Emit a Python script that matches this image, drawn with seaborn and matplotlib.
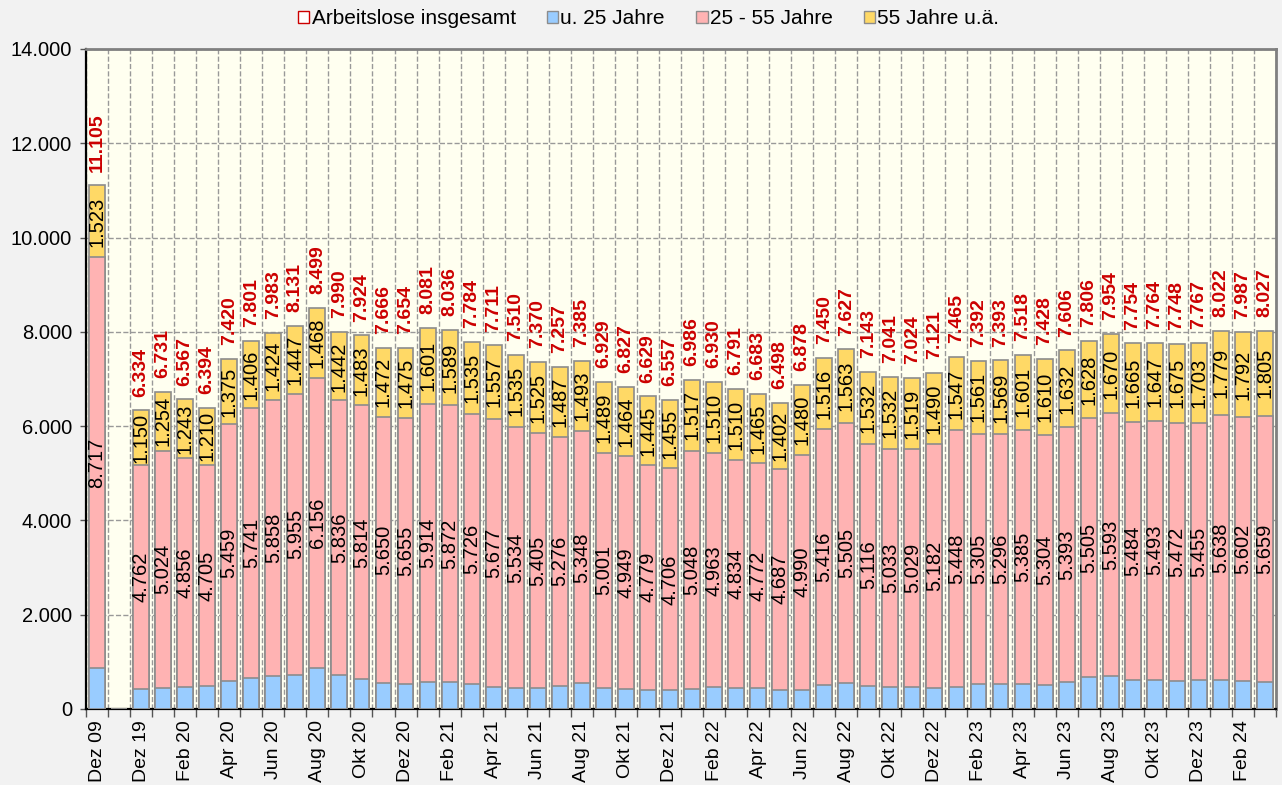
import pandas as pd
import numpy as np
import seaborn as sns
import matplotlib.pyplot as plt
from matplotlib.patches import Patch
from matplotlib.ticker import FuncFormatter, FixedLocator

# months (second slot is an empty gap between Dez 09 and Dez 19)
months = ["Dez 09", "",
          "Dez 19",
          "Jan 20", "Feb 20", "Mrz 20", "Apr 20", "Mai 20", "Jun 20",
          "Jul 20", "Aug 20", "Sep 20", "Okt 20", "Nov 20", "Dez 20",
          "Jan 21", "Feb 21", "Mrz 21", "Apr 21", "Mai 21", "Jun 21",
          "Jul 21", "Aug 21", "Sep 21", "Okt 21", "Nov 21", "Dez 21",
          "Jan 22", "Feb 22", "Mrz 22", "Apr 22", "Mai 22", "Jun 22",
          "Jul 22", "Aug 22", "Sep 22", "Okt 22", "Nov 22", "Dez 22",
          "Jan 23", "Feb 23", "Mrz 23", "Apr 23", "Mai 23", "Jun 23",
          "Jul 23", "Aug 23", "Sep 23", "Okt 23", "Nov 23", "Dez 23",
          "Jan 24", "Feb 24", "Mrz 24"]

total = [11105, 0,
         6334,
         6731, 6567, 6394, 7420, 7801, 7983, 8131, 8499, 7990, 7924, 7666, 7654,
         8081, 8036, 7784, 7711, 7510, 7370, 7257, 7385, 6929, 6827, 6629, 6557,
         6986, 6930, 6791, 6683, 6498, 6878, 7450, 7627, 7143, 7041, 7024, 7121,
         7465, 7392, 7393, 7518, 7428, 7606, 7806, 7954, 7754, 7764, 7748, 7767,
         8022, 7987, 8027]

unter25 = [865, 0,
           422,
           453, 468, 479, 586, 654, 701, 729, 875, 712, 627, 544, 524,
           566, 575, 523, 477, 441, 440, 494, 544, 439, 414, 405, 396,
           421, 457, 447, 446, 409, 408, 518, 559, 495, 476, 476, 449,
           470, 526, 528, 532, 514, 581, 673, 691, 605, 624, 601, 609,
           605, 593, 563]

mitte = [8717, 0,
         4762,
         5024, 4856, 4705, 5459, 5741, 5858, 5955, 6156, 5836, 5814, 5650, 5655,
         5914, 5872, 5726, 5677, 5534, 5405, 5276, 5348, 5001, 4949, 4779, 4706,
         5048, 4963, 4834, 4772, 4687, 4990, 5416, 5505, 5116, 5033, 5029, 5182,
         5448, 5305, 5296, 5385, 5304, 5393, 5505, 5593, 5484, 5493, 5472, 5455,
         5638, 5602, 5659]

ab55 = [1523, 0,
        1150,
        1254, 1243, 1210, 1375, 1406, 1424, 1447, 1468, 1442, 1483, 1472, 1475,
        1601, 1589, 1535, 1557, 1535, 1525, 1487, 1493, 1489, 1464, 1445, 1455,
        1517, 1510, 1510, 1465, 1402, 1480, 1516, 1563, 1532, 1532, 1519, 1490,
        1547, 1561, 1569, 1601, 1610, 1632, 1628, 1670, 1665, 1647, 1675, 1703,
        1779, 1792, 1805]

series_names = ["Arbeitslose insgesamt", "u. 25 Jahre", "25 - 55 Jahre", "55 Jahre u.ä."]

BLUE = "#99CCFF"
PINK = "#FFB3B3"
YELLOW = "#FFD966"
RED = "#CC0000"
EDGE = "#8C8C8C"

df = pd.DataFrame({"monat": months, "u25": unter25, "mitte": mitte, "ab55": ab55, "total": total})
df["lvl1"] = df["u25"]
df["lvl2"] = df["u25"] + df["mitte"]
df["lvl3"] = df["u25"] + df["mitte"] + df["ab55"]

plt.rcParams["font.family"] = ["Liberation Sans", "DejaVu Sans"]

fig = plt.figure(figsize=(12.82, 7.85), dpi=100, facecolor="#F2F2F2")
ax = fig.add_axes([86 / 1282, 1 - 709 / 785, 1190 / 1282, 660 / 785])
ax.set_facecolor("#FFFFF0")

# stacked bars: draw cumulative levels from top to bottom
bar_kw = dict(order=months, errorbar=None, saturation=1, width=0.72,
              edgecolor=EDGE, linewidth=1.2, ax=ax, zorder=3)
sns.barplot(data=df, x="monat", y="lvl3", color=YELLOW, **bar_kw)
sns.barplot(data=df, x="monat", y="lvl2", color=PINK, **bar_kw)
sns.barplot(data=df, x="monat", y="lvl1", color=BLUE, **bar_kw)

# labels
for i, row in df.iterrows():
    if row["total"] == 0:
        continue
    ax.text(i, row["u25"] + row["mitte"] / 2, f"{row['mitte']:,}".replace(",", "."),
            rotation=90, ha="center", va="center", fontsize=14.5, color="black", zorder=5)
    ax.text(i, row["lvl2"] + row["ab55"] / 2, f"{row['ab55']:,}".replace(",", "."),
            rotation=90, ha="center", va="center", fontsize=14.5, color="black", zorder=5)
    ax.annotate(f"{row['total']:,}".replace(",", "."), (i, row["lvl3"]),
                xytext=(0, 10), textcoords="offset points", rotation=90,
                ha="center", va="bottom", fontsize=14, fontweight="bold",
                color=RED, zorder=5)

n = len(months)
ax.set_xlim(-0.5, n - 0.5)
ax.set_ylim(0, 14000)
ax.set_yticks(np.arange(0, 14001, 2000))
ax.yaxis.set_major_formatter(FuncFormatter(lambda v, p: f"{v:,.0f}".replace(",", ".")))

major_pos = list(range(0, n, 2))
ax.xaxis.set_major_locator(FixedLocator(major_pos))
ax.set_xticklabels([months[i] for i in major_pos], rotation=90)
ax.xaxis.set_minor_locator(FixedLocator(np.arange(-0.5, n, 1)))
ax.tick_params(axis="x", which="major", length=0, pad=8, labelsize=14)
ax.tick_params(axis="x", which="minor", length=6, width=1, color="#555555")
ax.tick_params(axis="y", which="major", length=4, width=1, color="#555555",
               labelsize=14.5, pad=6)
ax.set_xlabel("")
ax.set_ylabel("")

ax.grid(axis="y", which="major", linestyle="--", color="#999999", linewidth=1, zorder=0)
ax.grid(axis="x", which="minor", linestyle="--", color="#999999", linewidth=1, zorder=0)
ax.grid(axis="x", which="major", visible=False)
ax.set_axisbelow(True)

for side in ["left", "bottom"]:
    ax.spines[side].set_color("black")
    ax.spines[side].set_linewidth(1.6)
for side in ["top", "right"]:
    ax.spines[side].set_color("#808080")
    ax.spines[side].set_linewidth(2)

handles = [Patch(facecolor="white", edgecolor=RED),
           Patch(facecolor=BLUE, edgecolor=EDGE),
           Patch(facecolor=PINK, edgecolor=EDGE),
           Patch(facecolor=YELLOW, edgecolor=EDGE)]
fig.legend(handles, series_names, loc="upper center", bbox_to_anchor=(0.506, 1.012),
           ncol=4, frameon=False, fontsize=15, handlelength=0.55, handleheight=0.55,
           handletextpad=0.1, columnspacing=1.5)

fig.savefig("out.png", dpi=100, facecolor=fig.get_facecolor())
